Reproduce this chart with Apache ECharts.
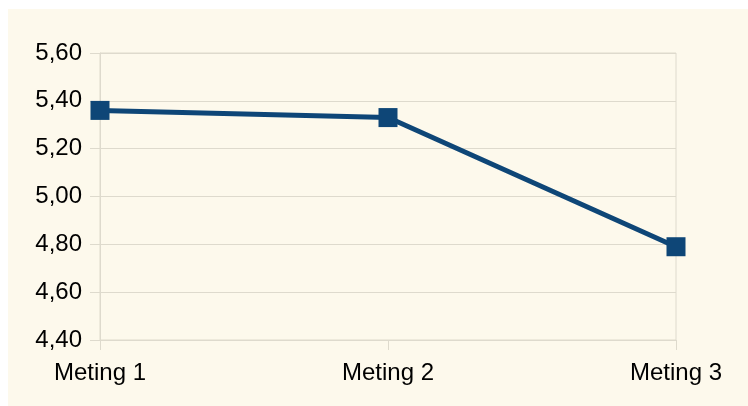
<!DOCTYPE html>
<html>
<head>
<meta charset="utf-8">
<script src="https://cdn.jsdelivr.net/npm/echarts@6/dist/echarts.min.js"></script>
<style>
  html, body { margin: 0; padding: 0; background: #ffffff; }
  #chart { position: absolute; left: 8px; top: 9px; width: 740px; height: 397px; }
</style>
</head>
<body>
<div id="chart"></div>
<script>
// Metingen en gemiddelde scores
const categories = ['Meting 1', 'Meting 2', 'Meting 3'];
const scores = [5.36, 5.33, 4.79];
const yTicks = [4.4, 4.6, 4.8, 5.0, 5.2, 5.4, 5.6];

const chart = echarts.init(document.getElementById('chart'));
const gridColor = '#dedacd';
const font = 'Liberation Sans, Arial, sans-serif';

chart.setOption({
  backgroundColor: '#fdf9ec',
  animation: false,
  grid: {
    left: 92, right: 72, top: 44, bottom: 66,
    show: true, borderColor: gridColor, borderWidth: 1,
    backgroundColor: 'transparent'
  },
  xAxis: {
    type: 'category',
    data: categories,
    boundaryGap: false,
    axisLine: { lineStyle: { color: gridColor, width: 1 } },
    axisTick: { show: true, length: 10, lineStyle: { color: gridColor } },
    splitLine: { show: false },
    axisLabel: { color: '#000', fontFamily: font, fontSize: 24, margin: 21 }
  },
  yAxis: {
    type: 'value',
    min: yTicks[0],
    max: yTicks[yTicks.length - 1],
    interval: 0.2,
    axisLine: { show: true, lineStyle: { color: gridColor, width: 1 } },
    axisTick: { show: true, length: 10, lineStyle: { color: gridColor } },
    splitLine: { show: true, lineStyle: { color: gridColor, width: 1 } },
    axisLabel: {
      color: '#000', fontFamily: font, fontSize: 24, margin: 18,
      formatter: v => v.toFixed(2).replace('.', ',')
    }
  },
  series: [{
    type: 'line',
    data: scores,
    symbol: 'rect',
    symbolSize: 19,
    lineStyle: { color: '#0e4677', width: 5 },
    itemStyle: { color: '#0e4677' }
  }]
});
</script>
</body>
</html>
